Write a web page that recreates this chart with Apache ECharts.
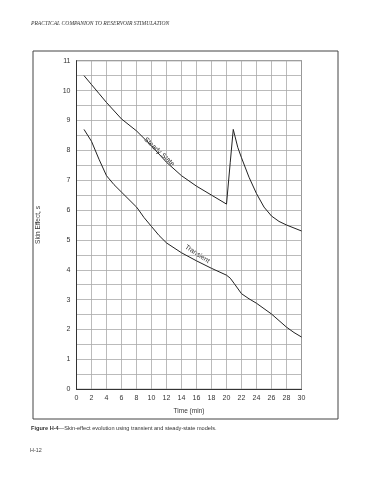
<!DOCTYPE html>
<html><head><meta charset="utf-8">
<script src="https://cdn.jsdelivr.net/npm/echarts@6/dist/echarts.min.js"></script>
<style>html,body{margin:0;padding:0;background:#fff}#c{width:370px;height:480px}</style>
</head><body><div id="c"></div>
<script>
const steadyX = [1, 2, 3, 4, 6, 8, 10, 12, 14, 16, 18, 20, 20.5, 20.9, 21.5, 22, 23, 24, 25, 26, 27, 28, 29, 30];
const steadyY = [10.5, 10.2, 9.9, 9.6, 9.05, 8.65, 8.15, 7.6, 7.15, 6.8, 6.5, 6.2, 7.6, 8.7, 8.1, 7.75, 7.1, 6.55, 6.1, 5.8, 5.62, 5.5, 5.4, 5.3];
const transX = [1, 2, 3, 4, 5, 6, 7, 8, 8.3, 9, 10, 11, 12, 14, 16, 18, 20, 20.5, 21, 22, 23, 24, 25, 26, 27, 28, 29, 30];
const transY = [8.7, 8.3, 7.7, 7.15, 6.85, 6.6, 6.35, 6.1, 6.0, 5.75, 5.45, 5.15, 4.9, 4.57, 4.3, 4.05, 3.82, 3.72, 3.55, 3.2, 3.03, 2.88, 2.7, 2.52, 2.3, 2.08, 1.9, 1.75];
const xTicks = [0, 2, 4, 6, 8, 10, 12, 14, 16, 18, 20, 22, 24, 26, 28, 30];
const yTicks = [0, 1, 2, 3, 4, 5, 6, 7, 8, 9, 10, 11];
const titleText = 'PRACTICAL COMPANION TO RESERVOIR STIMULATION';
const captionBold = 'Figure H-4';
const captionRest = '\u2014Skin-effect evolution using transient and steady-state models.';
const pageText = 'H-12';
const xName = 'Time (min)';
const yName = 'Skin Effect, s';
const steadyLabel = 'Steady State';
const transLabel = 'Transient';

const chart = echarts.init(document.getElementById('c'));
const F = 'Liberation Sans, Arial, sans-serif';
const opt = {
  animation: false,
  backgroundColor: '#fff',
  grid: { left: 76.5, right: 68.5, top: 60.7, bottom: 90.7, show: true, borderColor: '#555', borderWidth: 1 },
  xAxis: {
    type: 'value', min: 0, max: 30, interval: 2,
    name: xName, nameLocation: 'middle', nameGap: 18,
    nameTextStyle: { fontFamily: F, fontSize: 6.5, color: '#333' },
    axisLine: { lineStyle: { color: '#333', width: 1 } },
    axisTick: { show: false },
    axisLabel: { fontFamily: F, fontSize: 7, color: '#333', margin: 5, customValues: xTicks },
    splitLine: { show: true, lineStyle: { color: '#aaa', width: 0.8 } }
  },
  yAxis: {
    type: 'value', min: 0, max: 11, interval: 1,
    name: yName, nameLocation: 'middle', nameGap: 35, nameRotate: 90,
    nameTextStyle: { fontFamily: F, fontSize: 6.5, color: '#333' },
    axisLine: { show: true, lineStyle: { color: '#333', width: 1 } },
    axisTick: { show: false },
    axisLabel: { fontFamily: F, fontSize: 7, color: '#333', margin: 6, customValues: yTicks },
    splitLine: { show: true, lineStyle: { color: '#aaa', width: 0.8 } },
    minorTick: { show: false, splitNumber: 2 },
    minorSplitLine: { show: true, lineStyle: { color: '#aaa', width: 0.8 } }
  },
  series: [
    { type: 'line', data: steadyX.map((x, i) => [x, steadyY[i]]), symbol: 'none',
      lineStyle: { color: '#222', width: 1 } },
    { type: 'line', data: transX.map((x, i) => [x, transY[i]]), symbol: 'none',
      lineStyle: { color: '#222', width: 1 } }
  ],
  graphic: [
    { type: 'rect', shape: { x: 33, y: 51, width: 305, height: 368 }, style: { fill: 'none', stroke: '#444', lineWidth: 1 }, silent: true },
    { type: 'text', left: 31, top: 21, style: { text: titleText, font: 'italic 5.6px "Liberation Serif", serif', fill: '#333' } },
    { type: 'text', left: 31, top: 425, style: { text: '{b|' + captionBold + '}' + captionRest,
        font: '5.6px "Liberation Sans", sans-serif', fill: '#333',
        rich: { b: { fontWeight: 'bold', fontSize: 5.6, fontFamily: 'Liberation Sans' } } } },
    { type: 'text', left: 30, top: 448, style: { text: pageText, font: '5.4px "Liberation Sans", sans-serif', fill: '#444' } }
  ]
};
chart.setOption(opt);
const p1 = chart.convertToPixel({ gridIndex: 0 }, [11.05, 7.95]);
const p2 = chart.convertToPixel({ gridIndex: 0 }, [16.1, 4.53]);
chart.setOption({ graphic: opt.graphic.concat([
  { type: 'text', x: p1[0], y: p1[1], rotation: -43 * Math.PI / 180,
    style: { text: steadyLabel, font: '6.8px "Liberation Sans", sans-serif', fill: '#222', align: 'center', verticalAlign: 'middle' } },
  { type: 'text', x: p2[0], y: p2[1], rotation: -33 * Math.PI / 180,
    style: { text: transLabel, font: '6.8px "Liberation Sans", sans-serif', fill: '#222', align: 'center', verticalAlign: 'middle' } }
]) });
</script></body></html>
